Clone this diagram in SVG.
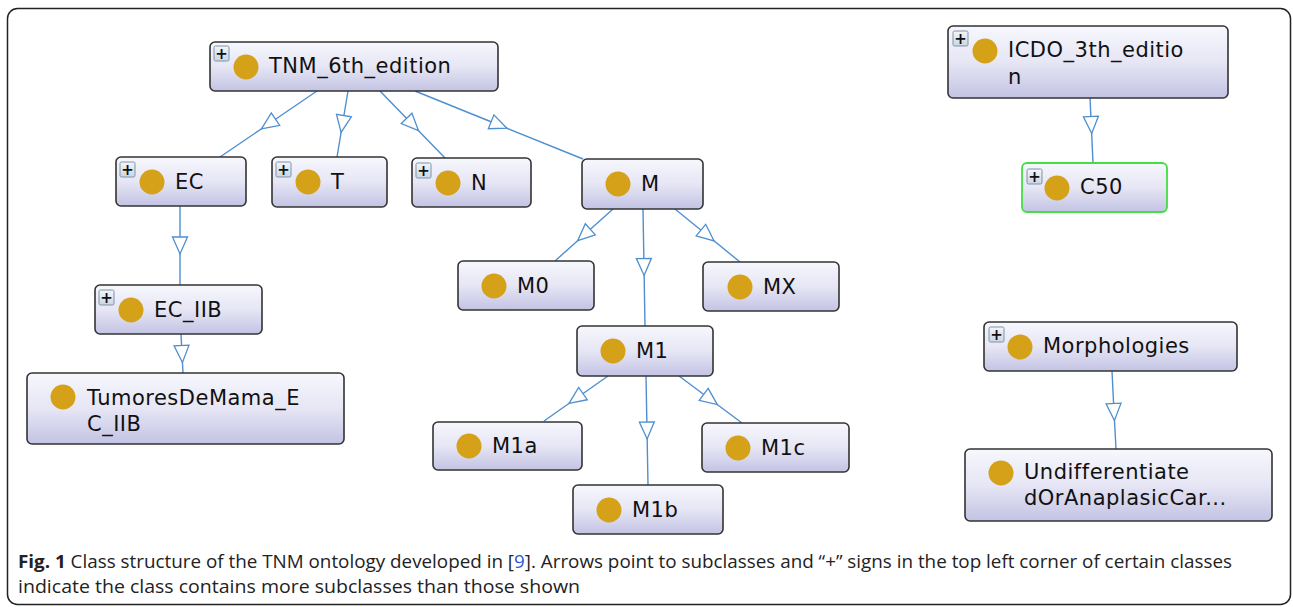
<svg xmlns="http://www.w3.org/2000/svg" width="1293" height="607" viewBox="0 0 1293 607">
<defs>
<linearGradient id="nodeGrad" x1="0" y1="0" x2="0" y2="1">
<stop offset="0" stop-color="#f7f7fd"/>
<stop offset="0.5" stop-color="#e6e6f5"/>
<stop offset="1" stop-color="#c3c3e4"/>
</linearGradient>
<linearGradient id="plusGrad" x1="0" y1="0" x2="0" y2="1">
<stop offset="0" stop-color="#f2f6fa"/>
<stop offset="1" stop-color="#c9d6e3"/>
</linearGradient>
<marker id="tri" markerUnits="userSpaceOnUse" viewBox="-1 -1 19 17" markerWidth="19" markerHeight="17" refX="8.5" refY="7.5" orient="auto" overflow="visible">
<path d="M0,0 L17,7.5 L0,15 Z" fill="#ffffff" stroke="#4f8fcf" stroke-width="1.3"/>
</marker>
</defs>
<style>
.node{fill:url(#nodeGrad);stroke:#333333;stroke-width:1.6}
.sel{fill:url(#nodeGrad);stroke:#44dd44;stroke-width:1.8}
.dot{fill:#d4a118}
.lbl{font-family:"DejaVu Sans",sans-serif;font-size:21px;letter-spacing:0.5px;fill:#111111}
.pbox{fill:url(#plusGrad);stroke:#7f93a8;stroke-width:1}
.ptxt{font-family:"DejaVu Sans",sans-serif;font-size:15px;font-weight:bold;fill:#111111;text-anchor:middle}
.edge{fill:none;stroke:#4f8fcf;stroke-width:1.4;marker-mid:url(#tri)}
.cap{font-family:"Open Sans",sans-serif;font-size:17.5px;fill:#222222}
</style>
<rect x="7.5" y="8.5" width="1283" height="596" rx="10" fill="#ffffff" stroke="#222222" stroke-width="1.5"/>

<g id="connectors">
<path class="edge" d="M317,91 L268.5,124 L220,157"/>
<path class="edge" d="M348,91 L342.5,124 L337,157"/>
<path class="edge" d="M380,91 L412.5,124.5 L445,158"/>
<path class="edge" d="M415,91 L499,125 L583,159"/>
<path class="edge" d="M180,206 L180,245.5 L180,285"/>
<path class="edge" d="M181,334 L182,354 L183,373"/>
<path class="edge" d="M613,209 L584,235 L555,261"/>
<path class="edge" d="M643,209 L644,267 L645,326"/>
<path class="edge" d="M675,209 L707.5,235.5 L740,262"/>
<path class="edge" d="M608,376 L576,398.5 L544,421"/>
<path class="edge" d="M646,376 L647,430.5 L648,485"/>
<path class="edge" d="M679,376 L710.5,399.5 L742,423"/>
<path class="edge" d="M1090,98 L1091.3,125 L1093,163"/>
<path class="edge" d="M1112,371 L1114,412 L1116,449"/>
</g>

<g id="TNM_6th_edition">
<rect class="node" x="210" y="42" width="288" height="49" rx="5"/>
<rect class="pbox" x="214" y="46" width="15" height="15" rx="1.5"/>
<text class="ptxt" x="221.5" y="59">+</text>
<circle class="dot" cx="246" cy="67" r="12.5"/>
<text class="lbl" x="269" y="73">TNM_6th_edition</text>
</g>

<g id="EC">
<rect class="node" x="116" y="157" width="130" height="49" rx="5"/>
<rect class="pbox" x="120" y="162" width="15" height="15" rx="1.5"/>
<text class="ptxt" x="127.5" y="175">+</text>
<circle class="dot" cx="152" cy="182" r="12.5"/>
<text class="lbl" x="175" y="189">EC</text>
</g>

<g id="T">
<rect class="node" x="272" y="157" width="115" height="50" rx="5"/>
<rect class="pbox" x="276" y="162" width="15" height="15" rx="1.5"/>
<text class="ptxt" x="283.5" y="175">+</text>
<circle class="dot" cx="308" cy="182" r="12.5"/>
<text class="lbl" x="331" y="189">T</text>
</g>

<g id="N">
<rect class="node" x="412" y="158" width="119" height="49" rx="5"/>
<rect class="pbox" x="416" y="163" width="15" height="15" rx="1.5"/>
<text class="ptxt" x="423.5" y="176">+</text>
<circle class="dot" cx="448" cy="183" r="12.5"/>
<text class="lbl" x="471" y="190">N</text>
</g>

<g id="M">
<rect class="node" x="582" y="159" width="121" height="50" rx="5"/>
<circle class="dot" cx="618" cy="184" r="12.5"/>
<text class="lbl" x="641" y="191">M</text>
</g>

<g id="EC_IIB">
<rect class="node" x="95" y="285" width="167" height="49" rx="5"/>
<rect class="pbox" x="99" y="290" width="15" height="15" rx="1.5"/>
<text class="ptxt" x="106.5" y="303">+</text>
<circle class="dot" cx="131" cy="310" r="12.5"/>
<text class="lbl" x="154" y="317">EC_IIB</text>
</g>

<g id="TumoresDeMama_EC_IIB">
<rect class="node" x="27" y="373" width="317" height="71" rx="5"/>
<circle class="dot" cx="63" cy="397" r="12.5"/>
<text class="lbl" x="87" y="405">TumoresDeMama_E</text>
<text class="lbl" x="87" y="431">C_IIB</text>
</g>

<g id="M0">
<rect class="node" x="458" y="261" width="136" height="49" rx="5"/>
<circle class="dot" cx="494" cy="286" r="12.5"/>
<text class="lbl" x="517" y="293">M0</text>
</g>

<g id="MX">
<rect class="node" x="703" y="262" width="136" height="49" rx="5"/>
<circle class="dot" cx="740" cy="287" r="12.5"/>
<text class="lbl" x="763" y="294">MX</text>
</g>

<g id="M1">
<rect class="node" x="577" y="326" width="136" height="50" rx="5"/>
<circle class="dot" cx="613" cy="351" r="12.5"/>
<text class="lbl" x="636" y="358">M1</text>
</g>

<g id="M1a">
<rect class="node" x="433" y="422" width="149" height="48" rx="5"/>
<circle class="dot" cx="469" cy="446" r="12.5"/>
<text class="lbl" x="492" y="453">M1a</text>
</g>

<g id="M1b">
<rect class="node" x="573" y="485" width="150" height="49" rx="5"/>
<circle class="dot" cx="609" cy="510" r="12.5"/>
<text class="lbl" x="632" y="517">M1b</text>
</g>

<g id="M1c">
<rect class="node" x="702" y="423" width="147" height="49" rx="5"/>
<circle class="dot" cx="738" cy="448" r="12.5"/>
<text class="lbl" x="761" y="455">M1c</text>
</g>

<g id="ICDO_3th_edition">
<rect class="node" x="948" y="26" width="280" height="72" rx="5"/>
<rect class="pbox" x="953" y="31" width="15" height="15" rx="1.5"/>
<text class="ptxt" x="960.5" y="44">+</text>
<circle class="dot" cx="985" cy="51" r="12.5"/>
<text class="lbl" x="1008" y="57">ICDO_3th_editio</text>
<text class="lbl" x="1008" y="84">n</text>
</g>

<g id="C50">
<rect class="sel" x="1022" y="163" width="145" height="49" rx="5"/>
<rect class="pbox" x="1027" y="169" width="15" height="15" rx="1.5"/>
<text class="ptxt" x="1034.5" y="182">+</text>
<circle class="dot" cx="1057" cy="188" r="12.5"/>
<text class="lbl" x="1080" y="194">C50</text>
</g>

<g id="Morphologies">
<rect class="node" x="984" y="322" width="253" height="49" rx="5"/>
<rect class="pbox" x="989" y="327" width="15" height="15" rx="1.5"/>
<text class="ptxt" x="996.5" y="340">+</text>
<circle class="dot" cx="1020" cy="347" r="12.5"/>
<text class="lbl" x="1043" y="353">Morphologies</text>
</g>

<g id="UndifferentiatedOrAnaplasicCar">
<rect class="node" x="965" y="449" width="307" height="72" rx="5"/>
<circle class="dot" cx="1001" cy="473" r="12.5"/>
<text class="lbl" x="1024" y="479">Undifferentiate</text>
<text class="lbl" x="1024" y="505">dOrAnaplasicCar...</text>
</g>

<text class="cap" x="18" y="568" textLength="1214" lengthAdjust="spacingAndGlyphs"><tspan font-weight="bold">Fig. 1</tspan> Class structure of the TNM ontology developed in [<tspan fill="#2a5bd7">9</tspan>]. Arrows point to subclasses and “+” signs in the top left corner of certain classes</text>
<text class="cap" x="18" y="593" textLength="562" lengthAdjust="spacingAndGlyphs">indicate the class contains more subclasses than those shown</text>
</svg>
